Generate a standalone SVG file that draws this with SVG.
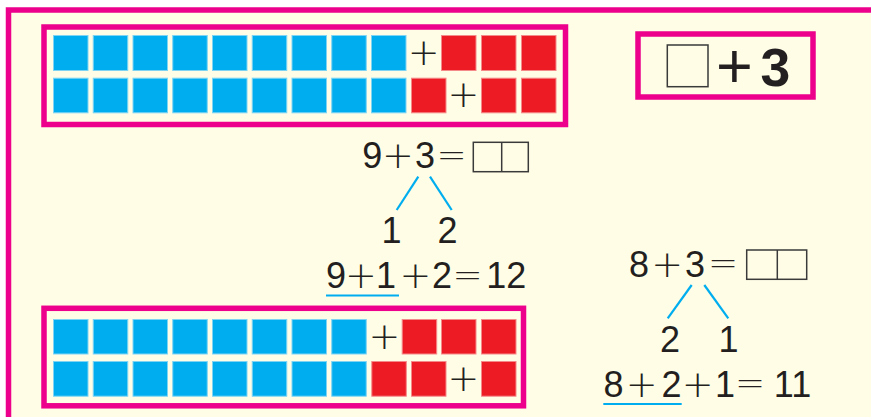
<svg xmlns="http://www.w3.org/2000/svg" width="871" height="417" viewBox="0 0 871 417">
<style>
.frame{fill:none;stroke:#EC008C;stroke-width:5.5}
.b{fill:#00AEEF;stroke:#7FD4F4;stroke-width:1}
.r{fill:#ED1C24;stroke:#F58A8A;stroke-width:1}
.t{font-family:"Liberation Sans",Arial,sans-serif;fill:#231F20}
.d{font-size:36px}
.op{font-family:"DejaVu Sans",sans-serif;font-weight:200;font-size:38px}
.eq{font-size:36px}
.box{fill:none;stroke:#3A3A3A;stroke-width:1.5}
.ln{stroke:#00AEEF;stroke-width:2.2;fill:none}
</style>
<rect x="0" y="0" width="871" height="417" fill="#FFFFFF"/>
<rect x="8.5" y="10" width="900" height="450" fill="#FFFDE6" stroke="#EC008C" stroke-width="5.5"/>

<g id="top-box">
<rect class="frame" x="44" y="27" width="521.5" height="97.5"/>
<g id="top-row1">
<rect class="b" x="53.5" y="35.5" width="34.5" height="35"/>
<rect class="b" x="93.25" y="35.5" width="34.5" height="35"/>
<rect class="b" x="133" y="35.5" width="34.5" height="35"/>
<rect class="b" x="172.75" y="35.5" width="34.5" height="35"/>
<rect class="b" x="212.5" y="35.5" width="34.5" height="35"/>
<rect class="b" x="252.25" y="35.5" width="34.5" height="35"/>
<rect class="b" x="292" y="35.5" width="34.5" height="35"/>
<rect class="b" x="331.75" y="35.5" width="34.5" height="35"/>
<rect class="b" x="371.5" y="35.5" width="34.5" height="35"/>
<text class="t op" x="423.7" y="65" text-anchor="middle">+</text>
<rect class="r" x="441.5" y="35.5" width="34.5" height="35"/>
<rect class="r" x="481.5" y="35.5" width="34.5" height="35"/>
<rect class="r" x="521.5" y="35.5" width="34.5" height="35"/>
</g>
<g id="top-row2">
<rect class="b" x="53.5" y="78.2" width="34.5" height="34.6"/>
<rect class="b" x="93.25" y="78.2" width="34.5" height="34.6"/>
<rect class="b" x="133" y="78.2" width="34.5" height="34.6"/>
<rect class="b" x="172.75" y="78.2" width="34.5" height="34.6"/>
<rect class="b" x="212.5" y="78.2" width="34.5" height="34.6"/>
<rect class="b" x="252.25" y="78.2" width="34.5" height="34.6"/>
<rect class="b" x="292" y="78.2" width="34.5" height="34.6"/>
<rect class="b" x="331.75" y="78.2" width="34.5" height="34.6"/>
<rect class="b" x="371.5" y="78.2" width="34.5" height="34.6"/>
<rect class="r" x="411.5" y="78.2" width="34.5" height="34.6"/>
<text class="t op" x="463.5" y="107" text-anchor="middle">+</text>
<rect class="r" x="481.5" y="78.2" width="34.5" height="34.6"/>
<rect class="r" x="521.5" y="78.2" width="34.5" height="34.6"/>
</g>
</g>

<g id="title-box">
<rect class="frame" x="638" y="34" width="175" height="63"/>
<rect class="box" x="667.3" y="45" width="40.7" height="41.7"/>
<text class="t" x="734.5" y="88" font-family="DejaVu Sans, sans-serif" font-size="63" text-anchor="middle">+</text>
<text class="t" x="775.5" y="85.7" font-size="53.5" font-weight="bold" text-anchor="middle">3</text>
</g>

<g id="equation-1">
<text class="t d" x="372.2" y="168.3" text-anchor="middle">9</text>
<text class="t op" x="398" y="168.3" text-anchor="middle">+</text>
<text class="t d" x="425" y="168.3" text-anchor="middle">3</text>
<text class="t op eq" x="451.7" y="167" text-anchor="middle">=</text>
<rect class="box" x="473.3" y="142.3" width="55" height="29.4"/>
<line x1="501.7" y1="142.3" x2="501.7" y2="171.7" stroke="#3A3A3A" stroke-width="1.5"/>
</g>

<g id="split-1">
<text class="t d" x="391.5" y="243.3" text-anchor="middle">1</text>
<text class="t d" x="447.5" y="243.3" text-anchor="middle">2</text>
</g>

<g id="equation-1b">
<text class="t d" x="335.9" y="288.3" text-anchor="middle">9</text>
<text class="t op" x="361" y="288.3" text-anchor="middle">+</text>
<text class="t d" x="386" y="288.3" text-anchor="middle">1</text>
<text class="t op" x="415.5" y="288.3" text-anchor="middle">+</text>
<text class="t d" x="442" y="288.3" text-anchor="middle">2</text>
<text class="t op eq" x="467.7" y="287" text-anchor="middle">=</text>
<text class="t d" x="506.2" y="288.3" text-anchor="middle">12</text>
</g>

<g id="bottom-box">
<rect class="frame" x="44" y="308.3" width="479.5" height="97.5"/>
<g id="bottom-row1">
<rect class="b" x="53.5" y="319.5" width="34.5" height="34.5"/>
<rect class="b" x="93.25" y="319.5" width="34.5" height="34.5"/>
<rect class="b" x="133" y="319.5" width="34.5" height="34.5"/>
<rect class="b" x="172.75" y="319.5" width="34.5" height="34.5"/>
<rect class="b" x="212.5" y="319.5" width="34.5" height="34.5"/>
<rect class="b" x="252.25" y="319.5" width="34.5" height="34.5"/>
<rect class="b" x="292" y="319.5" width="34.5" height="34.5"/>
<rect class="b" x="331.75" y="319.5" width="34.5" height="34.5"/>
<text class="t op" x="384.3" y="348.5" text-anchor="middle">+</text>
<rect class="r" x="402.2" y="319.5" width="34.5" height="34.5"/>
<rect class="r" x="441.5" y="319.5" width="34.5" height="34.5"/>
<rect class="r" x="481.5" y="319.5" width="34.5" height="34.5"/>
</g>
<g id="bottom-row2">
<rect class="b" x="53.5" y="361.5" width="34.5" height="34.7"/>
<rect class="b" x="93.25" y="361.5" width="34.5" height="34.7"/>
<rect class="b" x="133" y="361.5" width="34.5" height="34.7"/>
<rect class="b" x="172.75" y="361.5" width="34.5" height="34.7"/>
<rect class="b" x="212.5" y="361.5" width="34.5" height="34.7"/>
<rect class="b" x="252.25" y="361.5" width="34.5" height="34.7"/>
<rect class="b" x="292" y="361.5" width="34.5" height="34.7"/>
<rect class="b" x="331.75" y="361.5" width="34.5" height="34.7"/>
<rect class="r" x="371.8" y="361.5" width="34.5" height="34.7"/>
<rect class="r" x="411.5" y="361.5" width="34.5" height="34.7"/>
<text class="t op" x="463.3" y="390.8" text-anchor="middle">+</text>
<rect class="r" x="481.5" y="361.5" width="34.5" height="34.7"/>
</g>
</g>

<g id="equation-2">
<text class="t d" x="638.9" y="276.7" text-anchor="middle">8</text>
<text class="t op" x="667.2" y="276.7" text-anchor="middle">+</text>
<text class="t d" x="695" y="276.7" text-anchor="middle">3</text>
<text class="t op eq" x="723" y="275.4" text-anchor="middle">=</text>
<rect class="box" x="746.7" y="250" width="60" height="29.3"/>
<line x1="777.3" y1="250" x2="777.3" y2="279.3" stroke="#3A3A3A" stroke-width="1.5"/>
</g>

<g id="split-2">
<text class="t d" x="670" y="351.7" text-anchor="middle">2</text>
<text class="t d" x="728.5" y="351.7" text-anchor="middle">1</text>
</g>

<g id="equation-2b">
<text class="t d" x="613.4" y="396.7" text-anchor="middle">8</text>
<text class="t op" x="641.7" y="396.7" text-anchor="middle">+</text>
<text class="t d" x="671.4" y="396.7" text-anchor="middle">2</text>
<text class="t op" x="697.7" y="396.7" text-anchor="middle">+</text>
<text class="t d" x="725" y="396.7" text-anchor="middle">1</text>
<text class="t op eq" x="750" y="395.4" text-anchor="middle">=</text>
<text class="t d" x="792.5" y="396.7" text-anchor="middle">11</text>
</g>

<g id="connectors">
<line class="ln" x1="418.3" y1="176.7" x2="396.7" y2="210"/>
<line class="ln" x1="430" y1="176.7" x2="451.7" y2="210"/>
<line class="ln" x1="326" y1="295.5" x2="399" y2="295.5"/>
<line class="ln" x1="691.7" y1="285" x2="667.7" y2="318.3"/>
<line class="ln" x1="704.3" y1="285" x2="728.3" y2="318.3"/>
<line class="ln" x1="603.3" y1="404" x2="681.7" y2="404"/>
</g>
</svg>
